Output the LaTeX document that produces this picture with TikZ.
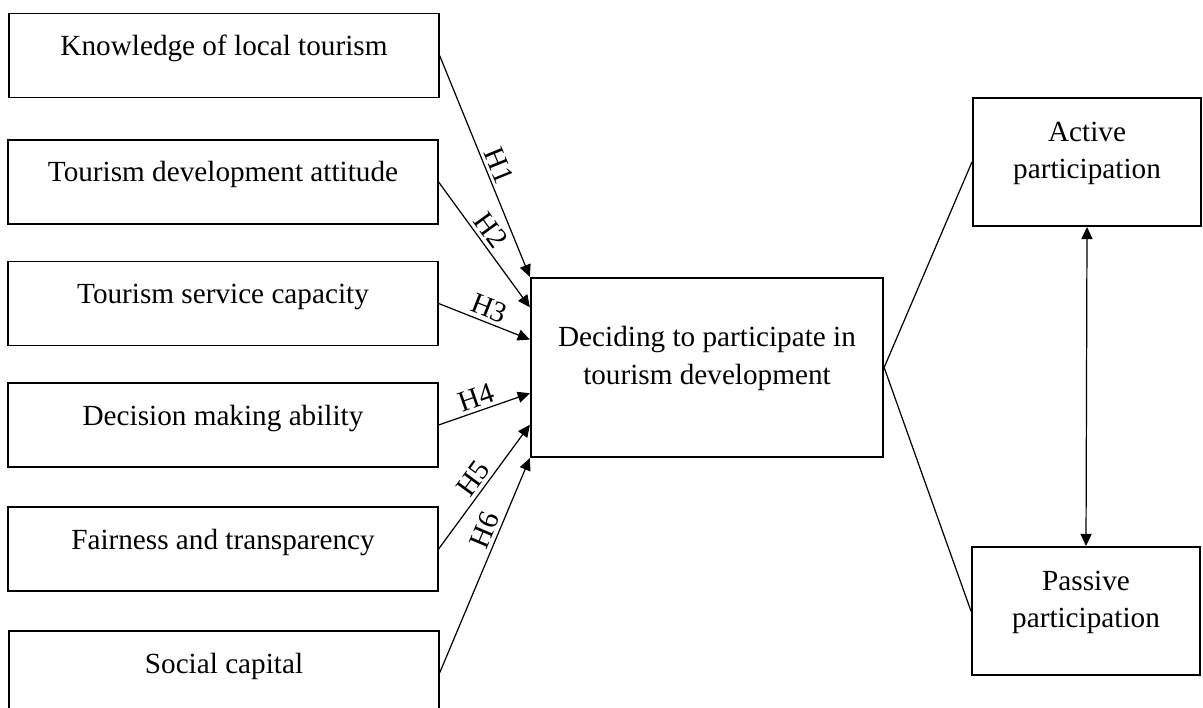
\documentclass[tikz,border=0pt]{standalone}
\usepackage{fontspec}
\setmainfont{Liberation Serif}
\usetikzlibrary{arrows.meta, calc}

\begin{document}
\begin{tikzpicture}[x=0.01444cm, y=-0.01444cm, font=\fontsize{12}{15.4}\selectfont]
			\tikzstyle{factor}=[
			draw,
			line width=0.8pt,
			rectangle,
			minimum width=176.3pt,
			minimum height=34.5pt,
			text height=8pt,
			text depth=8pt
			]
			\tikzstyle{outcome}=[
			draw,
			line width=0.8pt,
			rectangle,
			align=center,
			text height=20pt,
			text depth=6.2pt
			]
			\tikzstyle{hyp}=[-{Triangle[length=5pt,width=4.6pt]}, line width=0.5pt]
			\tikzstyle{hlabel}=[sloped, above, inner sep=1.5pt]
			\useasboundingbox (0,0) rectangle (1203,708);
			% left column
			\node[factor] (know) at (224,55.5) {Knowledge of local tourism};
			\node[factor] (attitude) at (223,182) {Tourism development attitude};
			\node[factor] (service) at (223,303.5) {Tourism service capacity};
			\node[factor] (ability) at (223,425) {Decision making ability};
			\node[factor] (fair) at (223,549) {Fairness and transparency};
			\node[factor] (social) at (224,673) {Social capital};
			% middle and right
			\node[outcome, minimum width=144.7pt, minimum height=73.6pt] (decide) at (707,367.5) {Deciding to participate in\\tourism development};
			\node[outcome, minimum width=93.7pt, minimum height=52.6pt] (active) at (1087,162) {Active\\participation};
			\node[outcome, minimum width=93.7pt, minimum height=52.6pt] (passive) at (1086,611) {Passive\\participation};
			%
			\draw[hyp] (know.east) -- node[hlabel, pos=.52] {H1} (decide.north west);
			\draw[hyp] (attitude.east) -- node[hlabel, pos=.45] {H2} ($(decide.north west)!0.168!(decide.south west)$);
			\draw[hyp] (service.east) -- node[hlabel, pos=.5] {H3} ($(decide.north west)!0.346!(decide.south west)$);
			\draw[hyp] (ability.east) -- node[hlabel, pos=.46] {H4} ($(decide.north west)!0.642!(decide.south west)$);
			\draw[hyp] (fair.east) -- node[hlabel, pos=.5] {H5} ($(decide.north west)!0.816!(decide.south west)$);
			\draw[hyp] (social.east) -- node[hlabel, pos=.64] {H6} (decide.south west);
			\draw[line width=0.5pt] (active.west) -- (decide.east) -- (passive.west);
			\draw[line width=0.5pt, {Triangle[length=5pt,width=4.6pt]}-{Triangle[length=5pt,width=4.6pt]}] (active.south) -- (passive.north);
\end{tikzpicture}
\end{document}
